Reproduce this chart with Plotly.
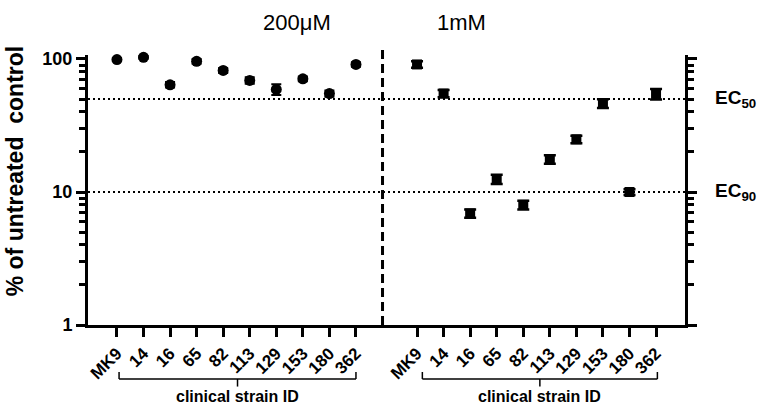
import numpy as np
import plotly.graph_objects as go

strains = ["MK9", "14", "16", "65", "82", "113", "129", "153", "180", "362"]
conc_labels = ["200μM", "1mM"]
vals_200uM = [99, 103, 64, 96, 82, 69, 59, 71, 55, 91]
err_200uM = [2.5, 2.5, 3, 4, 3.5, 4, 5.5, 3, 3, 3.5]
vals_1mM = [91, 55, 6.9, 12.5, 8.0, 17.6, 24.9, 46.4, 10.0, 54.6]
err_1mM = [5, 3.5, 0.5, 1.0, 0.6, 1.3, 1.6, 3.5, 0.5, 5]
ec_levels = [50, 10]
ec_labels = ["EC<sub>50</sub>", "EC<sub>90</sub>"]

FONT = "Liberation Sans, Arial, sans-serif"
n = len(strains)
gap = 11.3
x_left = np.arange(n)
x_right = gap + np.arange(n)
xr = [-1.09, 21.39]
yr = [0, 2.03]

fig = go.Figure()

for lvl in ec_levels:
    fig.add_trace(go.Scatter(x=xr, y=[lvl, lvl], mode="lines",
                             line=dict(color="black", width=2, dash="2px,3px"),
                             hoverinfo="skip"))

fig.add_trace(go.Scatter(
    x=x_left, y=vals_200uM, mode="markers",
    marker=dict(symbol="circle", size=11, color="black"),
    error_y=dict(type="data", array=err_200uM, color="black", thickness=2, width=5),
    cliponaxis=False))
fig.add_trace(go.Scatter(
    x=x_right, y=vals_1mM, mode="markers",
    marker=dict(symbol="square", size=10, color="black"),
    error_y=dict(type="data", array=err_1mM, color="black", thickness=2.5, width=6),
    cliponaxis=False))
# invisible trace on right axis
fig.add_trace(go.Scatter(x=[xr[0]], y=[1], yaxis="y2", mode="markers",
                         marker=dict(opacity=0), hoverinfo="skip"))

minor_vals = [m * d for d in (1, 10) for m in range(2, 10)]
yax_common = dict(type="log", range=yr, showline=True, linewidth=3, linecolor="black",
                  ticks="outside", ticklen=9, tickwidth=3, tickcolor="black",
                  tickvals=[1, 10, 100], ticktext=["1", "10", "100"],
                  minor=dict(tickvals=minor_vals, ticks="outside", ticklen=6,
                             tickwidth=3, tickcolor="black", showgrid=False),
                  showgrid=False, zeroline=False,
                  tickfont=dict(family=FONT, size=18, color="black", weight="bold"))

fig.update_layout(
    width=757, height=405,
    margin=dict(l=88, r=72, t=55, b=80),
    paper_bgcolor="white", plot_bgcolor="white",
    showlegend=False,
    xaxis=dict(range=xr, showline=True, linewidth=3, linecolor="black",
               ticks="outside", ticklen=9, tickwidth=3, tickcolor="black",
               tickvals=list(x_left) + list(x_right), ticktext=strains + strains,
               tickangle=-45, showgrid=False, zeroline=False,
               tickfont=dict(family=FONT, size=17, color="black", weight="bold")),
    yaxis=yax_common,
    yaxis2=dict(**yax_common, overlaying="y", side="right", anchor="x",
                showticklabels=False),
)

# divider
fig.add_shape(type="line", xref="x", yref="paper", x0=10, x1=10, y0=0, y1=1.02,
              line=dict(color="black", width=3, dash="9px,5px"))

# brackets
for x0, x1 in [(x_left[0] + 0.08, x_left[-1]), (x_right[0] + 0.2, x_right[-1] + 0.05)]:
    yt, yb, yc = -0.174, -0.2, -0.228
    xm = (x0 + x1) / 2
    for sx0, sy0, sx1, sy1 in [(x0, yt, x0, yb), (x0, yb, x1, yb), (x1, yb, x1, yt), (xm, yb, xm, yc)]:
        fig.add_shape(type="line", xref="x", yref="paper", x0=sx0, y0=sy0, x1=sx1, y1=sy1,
                      line=dict(color="black", width=1.5))
    fig.add_annotation(x=xm, y=-0.263, xref="x", yref="paper", text="clinical strain ID",
                       showarrow=False, yanchor="middle",
                       font=dict(family=FONT, size=16, color="black", weight="bold"))

for txt, px in zip(conc_labels, [0.350, 0.670]):
    fig.add_annotation(x=px, y=1.122, xref="paper", yref="paper", text=txt, showarrow=False,
                       yanchor="middle", font=dict(family=FONT, size=22, color="black"))

for lvl, txt in zip(ec_levels, ec_labels):
    fig.add_annotation(x=1.047, y=np.log10(lvl), xref="paper", yref="y", text=txt,
                       showarrow=False, xanchor="left", yanchor="middle",
                       font=dict(family=FONT, size=19, color="black", weight="bold"))

fig.add_annotation(x=-0.122, y=0.57, xref="paper", yref="paper",
                   text="% of untreated&nbsp;&nbsp;control", textangle=-90, showarrow=False,
                   xanchor="center", yanchor="middle",
                   font=dict(family=FONT, size=23, color="black", weight="bold"))

fig.write_html("out.html", config={"displayModeBar": False},
               post_script="document.body.style.margin='0';")
